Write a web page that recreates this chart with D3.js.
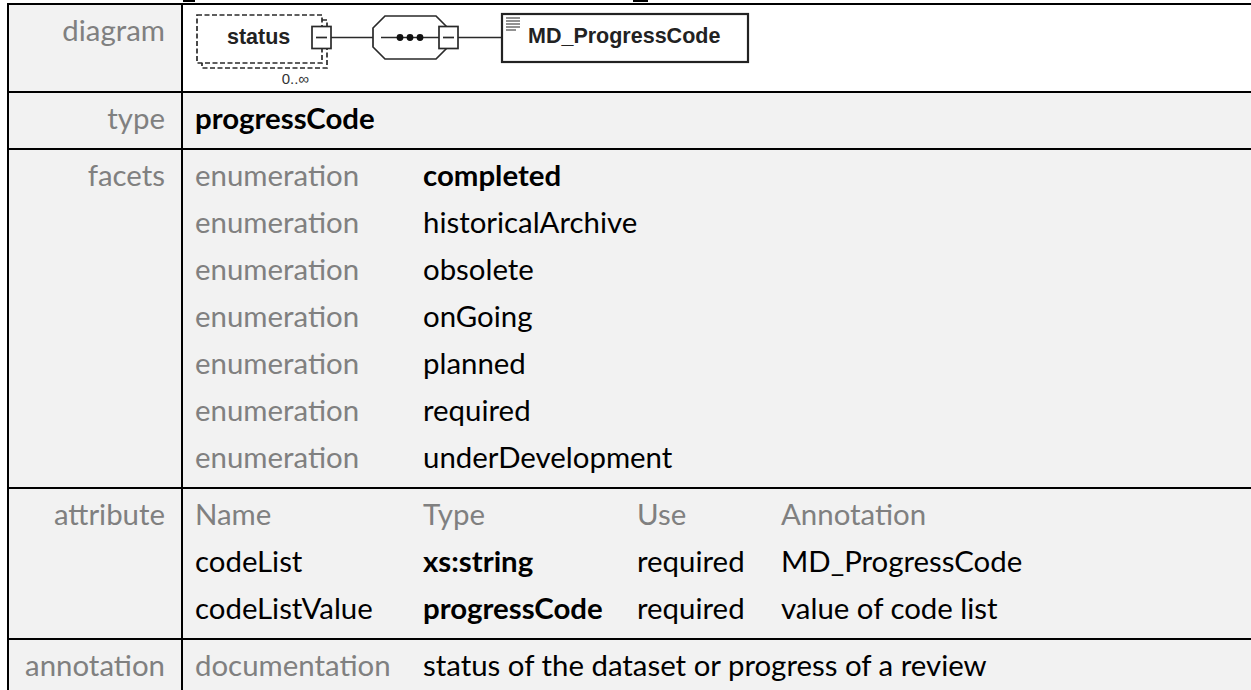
<!DOCTYPE html>
<html>
<head>
<meta charset="utf-8">
<script src="https://cdn.jsdelivr.net/npm/d3@7/dist/d3.min.js"></script>
<style>
  html, body { margin: 0; padding: 0; background: #ffffff; }
  svg { display: block; }
</style>
</head>
<body>
<svg id="chart" width="1251" height="690"></svg>
<script>
// ---------------- data ----------------
const rowLabels = ["diagram", "type", "facets", "attribute", "annotation"];
const rowLineCounts = [null, 1, 7, 3, 1];
const typeName = "progressCode";
const facetKinds = ["enumeration", "enumeration", "enumeration", "enumeration", "enumeration", "enumeration", "enumeration"];
const facetValues = ["completed", "historicalArchive", "obsolete", "onGoing", "planned", "required", "underDevelopment"];
const facetBold = [true, false, false, false, false, false, false];
const attrHeaders = ["Name", "Type", "Use", "Annotation"];
const attrNames = ["codeList", "codeListValue"];
const attrTypes = ["xs:string", "progressCode"];
const attrUses = ["required", "required"];
const attrAnnotations = ["MD_ProgressCode", "value of code list"];
const docKind = "documentation";
const docText = "status of the dataset or progress of a review";
const diagramElement = "status";
const diagramOccurs = "0..\u221E";
const diagramType = "MD_ProgressCode";

// ---------------- layout ----------------
const W = 1251, H = 690;
const svg = d3.select("#chart");
const FONT = "Lato, 'Open Sans', sans-serif";
const DFONT = "'Liberation Sans', Arial, sans-serif";
const GRAY = "#808080";
const BG = "#f2f2f2";

// fit body font size so "annotation" spans ~140px like the reference
const probe = svg.append("text").attr("font-family", FONT).attr("font-size", 100).text("annotation");
const probeW = probe.node().getComputedTextLength();
probe.remove();
const FS = 100 * 140 / probeW;

const tableLeft = 8, labelRight = 165, divX = 182;
const diagramTop = 4, diagramH = 88;
const lineH = 47, pad = 10, firstBase = 37;

// row tops via cumulative heights
const rowHeights = rowLineCounts.map((n, i) => i === 0 ? diagramH : n * lineH + pad);
const rowTops = [];
rowHeights.reduce((acc, h) => { rowTops.push(acc); return acc + h; }, diagramTop);

// column positions (facets use cols 0,1; attribute table uses 0..3)
const facetCols = d3.scaleOrdinal().domain([0, 1]).range([195, 423]);
const attrCols = d3.scaleOrdinal().domain([0, 1, 2, 3]).range([195, 423, 637, 781]);
const base = (r, i) => rowTops[r] + firstBase + i * lineH;

// backgrounds
svg.append("rect").attr("x", tableLeft).attr("y", diagramTop).attr("width", W - tableLeft).attr("height", H - diagramTop).attr("fill", BG);
svg.append("rect").attr("x", divX).attr("y", rowTops[0]).attr("width", W - divX).attr("height", diagramH).attr("fill", "#ffffff");

// clipped remnants of the heading above the table (underscores)
svg.append("rect").attr("x", 183).attr("y", 0).attr("width", 12).attr("height", 2).attr("fill", "#000");
svg.append("rect").attr("x", 633).attr("y", 0).attr("width", 15).attr("height", 2).attr("fill", "#000");

// grid lines
const g = svg.append("g");
rowTops.forEach(t => {
  g.append("line").attr("x1", tableLeft - 1).attr("x2", W).attr("y1", t).attr("y2", t).attr("stroke", "#000").attr("stroke-width", 2);
});
g.append("line").attr("x1", tableLeft).attr("x2", tableLeft).attr("y1", diagramTop).attr("y2", H).attr("stroke", "#000").attr("stroke-width", 2);
g.append("line").attr("x1", divX).attr("x2", divX).attr("y1", diagramTop).attr("y2", H).attr("stroke", "#000").attr("stroke-width", 2);

// row labels
svg.append("g").selectAll("text").data(rowLabels).join("text")
  .attr("x", labelRight).attr("y", (d, i) => base(i, 0))
  .attr("text-anchor", "end").attr("font-family", FONT).attr("font-size", FS)
  .attr("fill", GRAY).text(d => d);

function txt(x, y, s, opts = {}) {
  return svg.append("text").attr("x", x).attr("y", y)
    .attr("font-family", FONT).attr("font-size", FS)
    .attr("font-weight", opts.bold ? 700 : 400)
    .attr("fill", opts.fill || "#000").text(s);
}

// type row
txt(facetCols(0), base(1, 0), typeName, { bold: true });

// facets
facetKinds.forEach((k, i) => {
  txt(facetCols(0), base(2, i), k, { fill: GRAY });
  txt(facetCols(1), base(2, i), facetValues[i], { bold: facetBold[i] });
});

// attributes
attrHeaders.forEach((h, j) => txt(attrCols(j), base(3, 0), h, { fill: GRAY }));
attrNames.forEach((n, i) => {
  txt(attrCols(0), base(3, i + 1), n);
  txt(attrCols(1), base(3, i + 1), attrTypes[i], { bold: true });
  txt(attrCols(2), base(3, i + 1), attrUses[i]);
  txt(attrCols(3), base(3, i + 1), attrAnnotations[i]);
});

// annotation
txt(facetCols(0), base(4, 0), docKind, { fill: GRAY });
txt(facetCols(1), base(4, 0), docText);

// ---------------- diagram ----------------
const dg = svg.append("g");
const STK = "#2a2a2a";
const cy = 37.5;
// back (repeat) box
dg.append("rect").attr("x", 202).attr("y", 20).attr("width", 125).attr("height", 48)
  .attr("fill", "#fff").attr("stroke", STK).attr("stroke-width", 1.7).attr("stroke-dasharray", "5,2.5");
// front box
dg.append("rect").attr("x", 197).attr("y", 15).attr("width", 125).attr("height", 48)
  .attr("fill", "#fff").attr("stroke", STK).attr("stroke-width", 1.7).attr("stroke-dasharray", "5,2.5");
dg.append("text").attr("x", 227).attr("y", 44).attr("font-family", DFONT).attr("font-weight", 700)
  .attr("font-size", 21.5).attr("fill", "#222").text(diagramElement);
dg.append("text").attr("x", 309).attr("y", 84).attr("text-anchor", "end").attr("font-family", DFONT)
  .attr("font-size", 15).attr("fill", "#333").text(diagramOccurs);

function minusBox(x) {
  dg.append("rect").attr("x", x).attr("y", cy - 11).attr("width", 19).attr("height", 22)
    .attr("fill", "#fff").attr("stroke", STK).attr("stroke-width", 1.7);
  dg.append("line").attr("x1", x + 4).attr("x2", x + 15).attr("y1", cy).attr("y2", cy)
    .attr("stroke", STK).attr("stroke-width", 1.7);
}
minusBox(312);
dg.append("line").attr("x1", 331).attr("x2", 373).attr("y1", cy).attr("y2", cy).attr("stroke", STK).attr("stroke-width", 1.7);

// sequence compositor
const oct = [[373, 28], [385, 16], [436, 16], [447, 27], [447, 48], [436, 59], [385, 59], [373, 47]];
dg.append("polygon").attr("points", oct.map(p => p.join(",")).join(" "))
  .attr("fill", "#fff").attr("stroke", STK).attr("stroke-width", 1.7);
dg.append("line").attr("x1", 381).attr("x2", 440).attr("y1", cy).attr("y2", cy).attr("stroke", STK).attr("stroke-width", 1.7);
[400, 410, 420].forEach(x => dg.append("circle").attr("cx", x).attr("cy", cy).attr("r", 3.4).attr("fill", "#111"));
minusBox(439);
dg.append("line").attr("x1", 458).attr("x2", 502).attr("y1", cy).attr("y2", cy).attr("stroke", STK).attr("stroke-width", 1.7);

// type box
dg.append("rect").attr("x", 502).attr("y", 14).attr("width", 246).attr("height", 48)
  .attr("fill", "#fff").attr("stroke", "#222").attr("stroke-width", 2.2);
[18, 21, 24, 27, 30].forEach((y, i) => dg.append("line").attr("x1", 506).attr("x2", i === 4 ? 516 : 520)
  .attr("y1", y).attr("y2", y).attr("stroke", "#555").attr("stroke-width", 1.3));
dg.append("text").attr("x", 528).attr("y", 43).attr("font-family", DFONT).attr("font-weight", 700)
  .attr("font-size", 21.5).attr("fill", "#222").text(diagramType);
</script>
</body>
</html>
